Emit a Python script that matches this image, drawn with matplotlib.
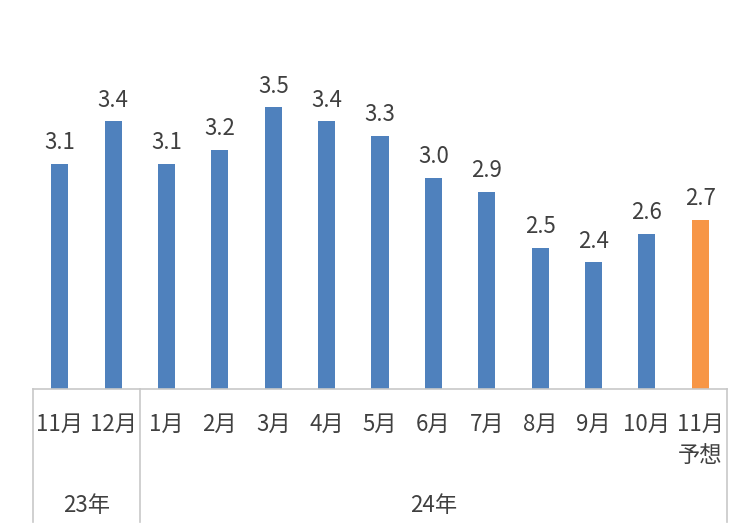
import matplotlib.pyplot as plt
from matplotlib.transforms import blended_transform_factory

plt.rcParams['font.family'] = ['Noto Sans CJK JP', 'DejaVu Sans']

# data
months = ['11月', '12月', '1月', '2月', '3月', '4月', '5月', '6月', '7月',
          '8月', '9月', '10月', '11月\n予想']
values = [3.1, 3.4, 3.1, 3.2, 3.5, 3.4, 3.3, 3.0, 2.9, 2.5, 2.4, 2.6, 2.7]
years = ['23年', '24年']
year_spans = [(0, 1), (2, 12)]

blue = '#4f81bd'
orange = '#f79646'
text_col = '#404040'
line_col = '#c8c8c8'

colors = [blue] * (len(values) - 1) + [orange]
x = list(range(len(values)))

fig = plt.figure(figsize=(7.5, 5.32), dpi=100)
ax = fig.add_axes([0.044, 0.2688, 0.9253, 0.6617])

ax.bar(x, values, width=0.32, color=colors, zorder=2)
ax.set_ylim(1.5, 4.0)
ax.set_xlim(-0.5, len(values) - 0.5)

# value labels
for xi, v in zip(x, values):
    ax.annotate(f'{v:.1f}', (xi, v), xytext=(0, 7), textcoords='offset points',
                ha='center', va='bottom', fontsize=16, color=text_col)

# axes styling
for side in ['left', 'right', 'top']:
    ax.spines[side].set_visible(False)
ax.spines['bottom'].set_color(line_col)
ax.spines['bottom'].set_linewidth(1.2)
ax.set_yticks([])
ax.set_xticks(x)
ax.set_xticklabels(months, fontsize=16, color=text_col, va='top', linespacing=1.45)
ax.tick_params(axis='x', length=0, pad=17)

# group separators and year labels
trans = blended_transform_factory(ax.transData, ax.transAxes)
for sep in [-0.5, 1.5, len(values) - 0.5]:
    ax.plot([sep, sep], [0, -0.378], transform=trans, color=line_col,
            lw=1.2, clip_on=False)
for label, (a, b) in zip(years, year_spans):
    ax.text((a + b) / 2, -0.33, label, transform=trans, ha='center', va='center',
            fontsize=16, color=text_col)

fig.savefig('out.png', dpi=100)
